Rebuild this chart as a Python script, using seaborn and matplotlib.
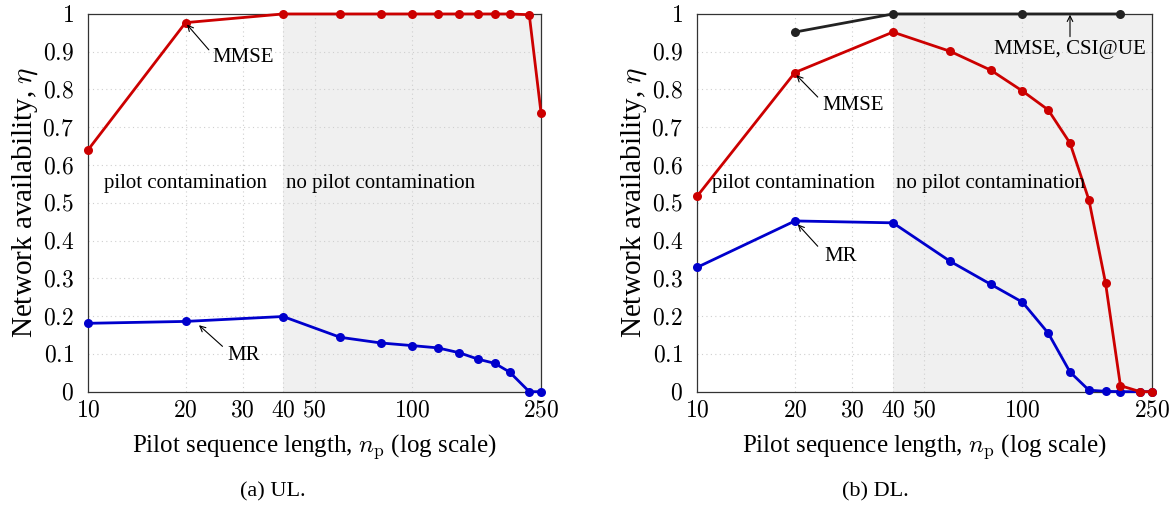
import numpy as np
import pandas as pd
import seaborn as sns
import matplotlib
matplotlib.use('Agg')
import matplotlib.pyplot as plt
from matplotlib.ticker import FixedLocator, FixedFormatter, NullLocator


# pilot sequence lengths (x axis, log scale)
n_p = [10, 20, 40, 60, 80, 100, 120, 140, 160, 180, 200, 230, 250]

# (a) UL
ul_mmse = [0.640, 0.977, 1.0, 1.0, 1.0, 1.0, 1.0, 1.0, 1.0, 1.0, 1.0, 0.998, 0.739]
ul_mr = [0.181, 0.186, 0.199, 0.144, 0.129, 0.122, 0.116, 0.103, 0.086, 0.075,
         0.052, 0.0, 0.0]

# (b) DL
dl_mmse = [0.517, 0.845, 0.952, 0.901, 0.851, 0.796, 0.746, 0.658, 0.508, 0.288,
           0.016, 0.0, 0.0]
dl_mr = [0.329, 0.452, 0.447, 0.345, 0.284, 0.237, 0.155, 0.052, 0.004, 0.001,
         0.0, 0.0, 0.0]
n_p_csi = [20, 40, 100, 200]
dl_mmse_csi = [0.952, 1.0, 1.0, 1.0]

x_ticks = [10, 20, 30, 40, 50, 100, 250]
y_ticks = [0, 0.1, 0.2, 0.3, 0.4, 0.5, 0.6, 0.7, 0.8, 0.9, 1]
y_tick_labels = ['0', '0.1', '0.2', '0.3', '0.4', '0.5', '0.6', '0.7', '0.8',
                 '0.9', '1']

RED = '#cc0000'
BLUE = '#0000cc'
BLACK = '#222222'

sns.set_style('white')
plt.rcParams['font.family'] = ['Liberation Serif', 'DejaVu Serif']
plt.rcParams['mathtext.fontset'] = 'cm'
plt.rcParams['text.color'] = 'black'
plt.rcParams['axes.labelcolor'] = 'black'
plt.rcParams['xtick.labelcolor'] = 'black'
plt.rcParams['ytick.labelcolor'] = 'black'


def style_axes(ax):
    ''' log x axis, grid, shaded region and tick labels like pgfplots '''
    ax.set_xscale('log')
    ax.set_xlim(10, 250)
    ax.set_ylim(0, 1)
    ax.axvspan(40, 250, color='#f0f0f0', zorder=0, lw=0)
    for y in y_ticks[1:-1]:
        ax.axhline(y, color='#cfcfcf', lw=0.8, ls=(0, (1, 3)), zorder=0.5)
    for x in [20, 30, 40, 50, 100]:
        ax.axvline(x, color='#cfcfcf', lw=0.8, ls=(0, (1, 3)), zorder=0.5)

    ax.xaxis.set_major_locator(FixedLocator(x_ticks))
    ax.xaxis.set_major_formatter(
        FixedFormatter(['$%d$' % t for t in x_ticks]))
    ax.xaxis.set_minor_locator(NullLocator())
    ax.yaxis.set_major_locator(FixedLocator(y_ticks))
    ax.yaxis.set_major_formatter(
        FixedFormatter(['$%s$' % t for t in y_tick_labels]))
    ax.tick_params(axis='x', which='major', direction='in', length=6,
                   width=0.8, color='#999999', labelsize=17, pad=6)
    ax.tick_params(axis='y', which='major', length=0, labelsize=17, pad=10)
    for s in ax.spines.values():
        s.set_color('#333333')
        s.set_linewidth(0.9)
    ax.set_ylabel(r'Network availability, $\eta$', fontsize=21, labelpad=2)
    ax.set_xlabel(r'Pilot sequence length, $n_\mathrm{p}$ (log scale)',
                  fontsize=18, labelpad=8)


def plot_curve(ax, x, y, color):
    df = pd.DataFrame({'n': x, 'eta': y})
    sns.lineplot(data=df, x='n', y='eta', ax=ax, color=color, lw=2.0,
                 marker='o', markersize=6.5, markeredgewidth=0, zorder=3,
                 clip_on=False)


def arrow(ax, head, tail):
    ax.annotate('', xy=head, xytext=tail,
                arrowprops=dict(arrowstyle='->', lw=0.8, color='black',
                                shrinkA=0, shrinkB=0))


fig = plt.figure(figsize=(11.72, 5.13), dpi=100)
ax1 = fig.add_axes([0.0751, 0.2365, 0.3865, 0.7363])
ax2 = fig.add_axes([0.5947, 0.2365, 0.3882, 0.7363])

# (a) UL
style_axes(ax1)
plot_curve(ax1, n_p, ul_mr, BLUE)
plot_curve(ax1, n_p, ul_mmse, RED)
arrow(ax1, (20.2, 0.972), (23.6, 0.905))
ax1.text(24.2, 0.885, 'MMSE', fontsize=15, va='center', ha='left')
arrow(ax1, (22, 0.176), (26, 0.12))
ax1.text(27.0, 0.097, 'MR', fontsize=15, va='center', ha='left')
ax1.text(11.2, 0.552, 'pilot contamination', fontsize=15, va='center')
ax1.text(40.9, 0.552, 'no pilot contamination', fontsize=15, va='center')

# (b) DL
style_axes(ax2)
plot_curve(ax2, n_p, dl_mr, BLUE)
plot_curve(ax2, n_p, dl_mmse, RED)
plot_curve(ax2, n_p_csi, dl_mmse_csi, BLACK)
arrow(ax2, (20.2, 0.838), (23.5, 0.78))
ax2.text(24.3, 0.757, 'MMSE', fontsize=15, va='center', ha='left')
arrow(ax2, (20.4, 0.443), (23.5, 0.385))
ax2.text(24.7, 0.357, 'MR', fontsize=15, va='center', ha='left')
arrow(ax2, (140, 0.998), (140, 0.94))
ax2.text(140, 0.907, 'MMSE, CSI@UE', fontsize=15, va='center', ha='center')
ax2.text(11.1, 0.552, 'pilot contamination', fontsize=15, va='center')
ax2.text(40.8, 0.552, 'no pilot contamination', fontsize=15, va='center')

for ax in (ax1, ax2):
    leg = ax.get_legend()
    if leg is not None:
        leg.remove()

# sub captions
fig.text(273 / 1172, 1 - 492 / 513, '(a) UL.', fontsize=16, ha='center',
         va='center')
fig.text(875 / 1172, 1 - 492 / 513, '(b) DL.', fontsize=16, ha='center',
         va='center')

fig.savefig('out.png', dpi=100)
